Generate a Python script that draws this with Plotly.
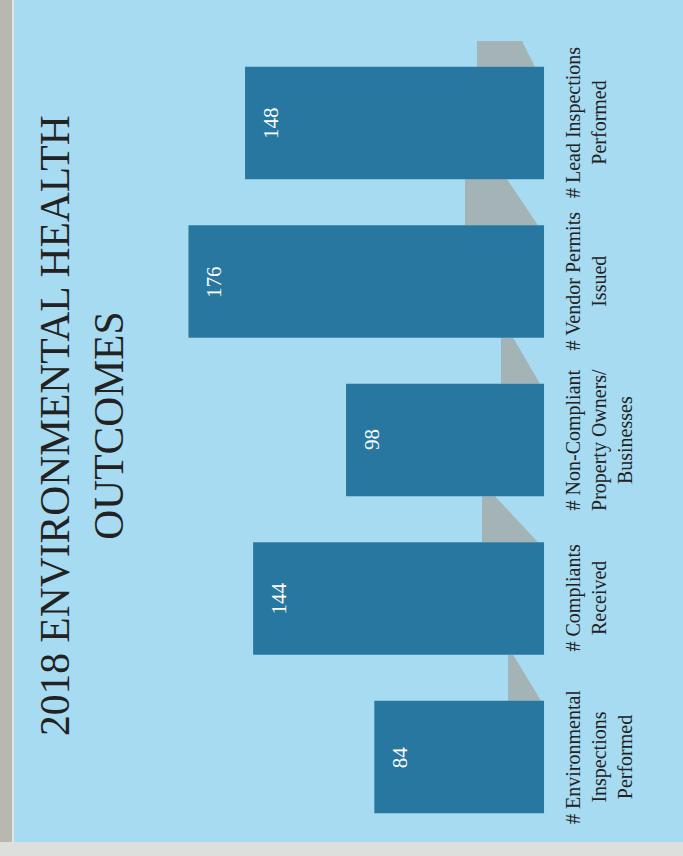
import plotly.graph_objects as go

# ---- data ----
categories = [
    "# Environmental<br>Inspections<br>Performed",
    "# Compliants<br>Received",
    "# Non-Compliant<br>Property Owners/<br>Businesses",
    "# Vendor Permits<br>Issued",
    "# Lead Inspections<br>Performed",
]
values = [84, 144, 98, 176, 148]
title_text = "2018 ENVIRONMENTAL HEALTH<br>OUTCOMES"

# photo shadow decoration (value units, per gap above each bar)
shadow_left = [17.8, 30.7, 21.3, 39.1, 33.2]
shadow_top_right = [15.3, 24.3, 15.3, 18.3, 10.9]
shadow_bottom_right = [1.5, 3.0, 2.0, 3.0, 4.5]
shadow_top_extent = [0.645, 0.645, 0.645, 0.645, 0.517]

# ---- style ----
BG = "#a6dbf1"
BAR = "#2877a1"
SHADOW = "#a3b3b6"
TEXT = "#222222"
FONT = "Liberation Serif"
BAR_W = 0.71

idx = list(range(len(values)))

fig = go.Figure()
fig.add_trace(go.Bar(
    x=values, y=idx, orientation="h", width=BAR_W,
    marker=dict(color=BAR, line=dict(width=0)),
    hoverinfo="skip", showlegend=False,
))

shapes = []
for i in idx:
    y0 = i + BAR_W / 2
    y1 = i + shadow_top_extent[i]
    path = (f"M {shadow_left[i]},{y0} L {shadow_bottom_right[i]},{y0} "
            f"L {shadow_top_right[i]},{y1} L {shadow_left[i]},{y1} Z")
    shapes.append(dict(type="path", path=path, xref="x", yref="y",
                       fillcolor=SHADOW, line=dict(width=0), layer="below"))

# photo frame strips
shapes.append(dict(type="rect", xref="paper", yref="paper", x0=0, x1=12/683,
                   y0=0, y1=1, fillcolor="#b7b8b0", line=dict(width=0), layer="above"))
shapes.append(dict(type="rect", xref="paper", yref="paper", x0=12/683, x1=14/683,
                   y0=0, y1=1, fillcolor="#dfe6e4", line=dict(width=0), layer="above"))
shapes.append(dict(type="rect", xref="paper", yref="paper", x0=0, x1=1,
                   y0=0, y1=14/856, fillcolor="#dcdfdb", line=dict(width=0), layer="above"))

annotations = []
for i, (c, v) in enumerate(zip(categories, values)):
    annotations.append(dict(
        x=0, y=i, xref="x", yref="y", text=c, showarrow=False,
        xanchor="left", yanchor="middle", xshift=17, textangle=-90,
        align="center", borderpad=0,
        font=dict(family=FONT, size=20, color=TEXT),
    ))
    annotations.append(dict(
        x=v, y=i, xref="x", yref="y", text=str(v), showarrow=False,
        xanchor="center", yanchor="middle", xshift=26, textangle=-90,
        font=dict(family=FONT, size=21, color="white"),
    ))

annotations.append(dict(
    x=82/683, y=1 - 426/856, xref="paper", yref="paper", text=title_text,
    showarrow=False, xanchor="center", yanchor="middle", textangle=-90,
    align="center", font=dict(family=FONT, size=41.5, color=TEXT),
))

fig.update_layout(
    width=683, height=856,
    margin=dict(l=0, r=0, t=0, b=0),
    paper_bgcolor=BG, plot_bgcolor=BG,
    xaxis=dict(range=[269.3, -68.8], visible=False, fixedrange=True),
    yaxis=dict(range=[-0.625, 4.776], visible=False, fixedrange=True),
    shapes=shapes, annotations=annotations,
)

fig.write_html(
    "out.html",
    config={"displayModeBar": False, "staticPlot": True},
    post_script="document.body.style.margin='0';document.body.style.overflow='hidden';",
)
